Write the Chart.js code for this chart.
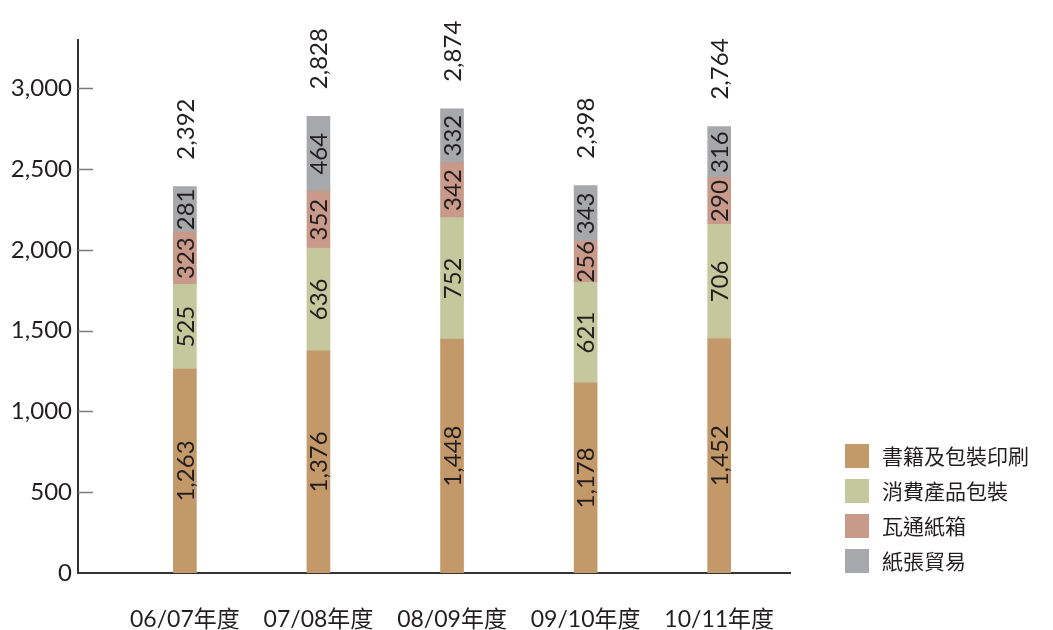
<!DOCTYPE html>
<html>
<head>
<meta charset="utf-8">
<script src="https://cdn.jsdelivr.net/npm/chart.js@4/dist/chart.umd.min.js"></script>
<style>
  body { margin: 0; background: #fff; }
  #wrap { width: 1053px; height: 630px; }
</style>
</head>
<body>
<div id="wrap"><canvas id="myChart" width="1053" height="630"></canvas></div>
<script>
const years = ["06/07年度", "07/08年度", "08/09年度", "09/10年度", "10/11年度"];
const books = [1263, 1376, 1448, 1178, 1452];
const consumer = [525, 636, 752, 621, 706];
const carton = [323, 352, 342, 256, 290];
const paper = [281, 464, 332, 343, 316];
const seriesNames = ["書籍及包裝印刷", "消費產品包裝", "瓦通紙箱", "紙張貿易"];
const seriesColors = ["#c4996a", "#c5c89c", "#c9998a", "#a7a8ab"];
const yTicks = [0, 500, 1000, 1500, 2000, 2500, 3000];

const FONT = 'Lato, "Noto Sans CJK TC", sans-serif';
const TEXT = "#231f20";

function points(arr) {
  return arr.map((v, i) => ({ x: i + 1, y: v }));
}

const datasets = [books, consumer, carton, paper].map((arr, k) => ({
  label: seriesNames[k],
  data: points(arr),
  backgroundColor: seriesColors[k],
  borderWidth: 0,
  barThickness: 23
}));

// numbers on each segment, totals above each bar, tick marks, legend
const labelPlugin = {
  id: "labelPlugin",
  afterDatasetsDraw(chart) {
    const ctx = chart.ctx;
    const yScale = chart.scales.y;
    ctx.save();
    ctx.fillStyle = TEXT;
    ctx.font = "24px " + FONT;
    ctx.textBaseline = "middle";

    // segment values
    chart.data.datasets.forEach((ds, k) => {
      chart.getDatasetMeta(k).data.forEach((bar, i) => {
        const v = ds.data[i].y;
        const midY = (bar.y + bar.base) / 2;
        ctx.save();
        ctx.translate(bar.x, midY);
        ctx.rotate(-Math.PI / 2);
        ctx.textAlign = "center";
        ctx.fillText(v.toLocaleString("en-US"), 0, 1);
        ctx.restore();
      });
    });

    // totals
    years.forEach((y, i) => {
      const total = books[i] + consumer[i] + carton[i] + paper[i];
      const bar = chart.getDatasetMeta(3).data[i];
      const top = yScale.getPixelForValue(total);
      ctx.save();
      ctx.translate(bar.x, top - 27);
      ctx.rotate(-Math.PI / 2);
      ctx.textAlign = "left";
      ctx.fillText(total.toLocaleString("en-US"), 0, 1);
      ctx.restore();
    });

    // short tick marks on the inner side of the value axis
    ctx.strokeStyle = "#7a7a7a";
    ctx.lineWidth = 1.5;
    yTicks.slice(1).forEach(v => {
      const py = Math.round(yScale.getPixelForValue(v)) + 0.5;
      ctx.beginPath();
      ctx.moveTo(chart.chartArea.left, py);
      ctx.lineTo(chart.chartArea.left + 15, py);
      ctx.stroke();
    });

    // legend
    ctx.font = "21px " + FONT;
    ctx.textAlign = "left";
    seriesNames.forEach((name, k) => {
      const by = 444 + k * 35;
      ctx.fillStyle = seriesColors[k];
      ctx.fillRect(845, by, 24, 24);
      ctx.fillStyle = TEXT;
      ctx.fillText(name, 882, by + 13);
    });
    ctx.restore();
  }
};

new Chart(document.getElementById("myChart"), {
  type: "bar",
  data: { datasets: datasets },
  plugins: [labelPlugin],
  options: {
    responsive: false,
    animation: false,
    layout: { padding: { top: 40, right: 263, left: 0, bottom: 0 } },
    plugins: {
      legend: { display: false },
      tooltip: { enabled: false }
    },
    scales: {
      x: {
        type: "linear",
        stacked: true,
        offset: false,
        min: 0.2,
        max: 5.53,
        afterBuildTicks(scale) {
          scale.ticks = years.map((y, i) => ({ value: i + 1 }));
        },
        afterFit(scale) { scale.height = 57; },
        grid: { display: false, drawTicks: false },
        border: { display: true, color: "#333", width: 2 },
        ticks: {
          color: TEXT,
          font: { size: 23, family: FONT },
          padding: 33,
          maxRotation: 0,
          autoSkip: false,
          callback: v => years[v - 1] || ""
        }
      },
      y: {
        stacked: true,
        min: 0,
        max: 3300,
        afterBuildTicks(scale) {
          scale.ticks = yTicks.map(v => ({ value: v }));
        },
        afterFit(scale) { scale.width = 78; },
        grid: { display: false, drawTicks: false },
        border: { display: true, color: "#333", width: 2 },
        ticks: {
          color: TEXT,
          font: { size: 24, family: FONT },
          padding: 6,
          callback: v => v.toLocaleString("en-US")
        }
      }
    }
  }
});
</script>
</body>
</html>
